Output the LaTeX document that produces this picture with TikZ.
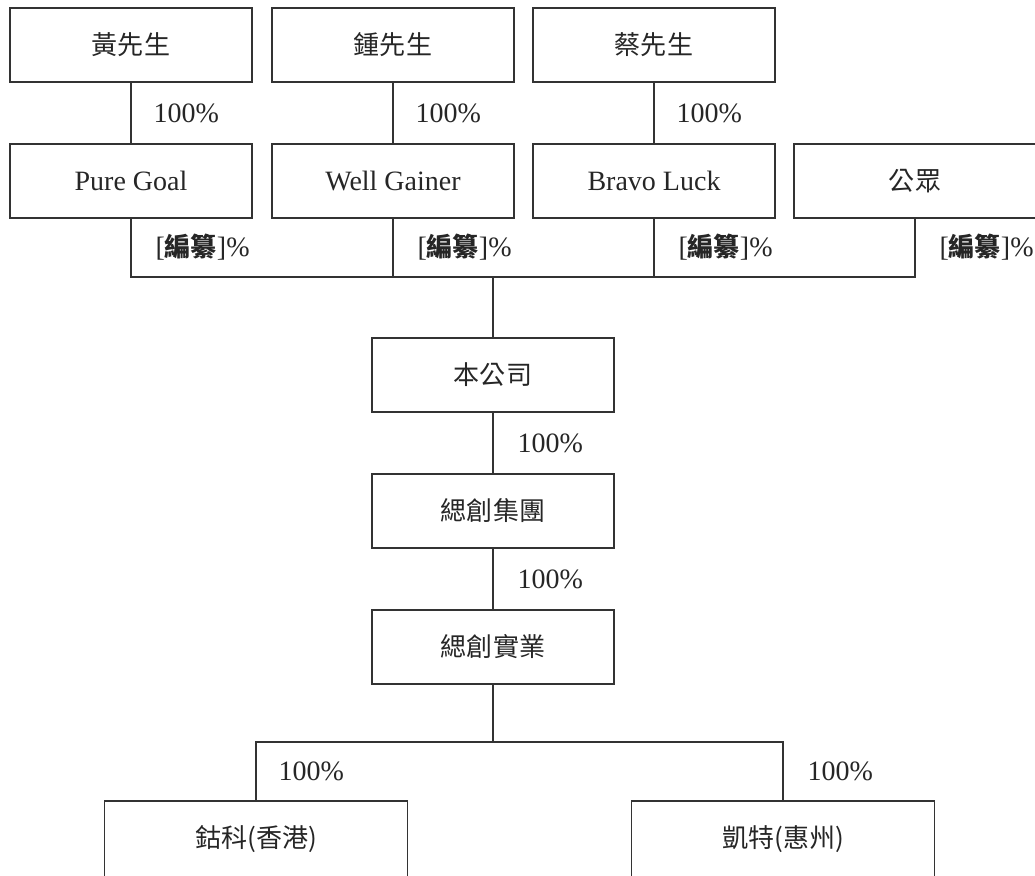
\documentclass[tikz,border=0pt]{standalone}
\usepackage{fontspec}
\setmainfont{Liberation Serif}
\newfontfamily\cjk[Scale=0.93]{Noto Sans CJK TC}
\usetikzlibrary{positioning}

\begin{document}
\begin{tikzpicture}[x=1pt, y=-1pt, line width=1.1pt, draw=black!80, text=black!85,
  box/.style={draw, minimum width=242pt, minimum height=74pt, inner sep=0pt, outer sep=0pt,
    font=\fontsize{28}{32}\selectfont},
  pct/.style={right=#1, inner sep=0pt, font=\fontsize{28}{32}\selectfont},
  pct/.default=22pt]

  \clip (0,0) rectangle (1035,875);

  \node[box] (huang) at (131,45) {\cjk 黃先生};
  \node[box, right=20pt of huang] (zhong) {\cjk 鍾先生};
  \node[box, right=19pt of zhong] (cai) {\cjk 蔡先生};

  \node[box, below=62pt of huang] (pure) {Pure Goal};
  \node[box, below=62pt of zhong] (well) {Well Gainer};
  \node[box, below=62pt of cai] (bravo) {Bravo Luck};
  \node[box, right=19pt of bravo] (public) {\cjk 公眾};

  \node[box] (company) at (493,375) {\cjk 本公司};
  \node[box, below=62pt of company] (group) {\cjk 緦創集團};
  \node[box, below=62pt of group] (industry) {\cjk 緦創實業};

  \node[box, minimum width=303pt, minimum height=76pt] (hk) at (256,839) {\cjk 鈷科(香港)};
  \node[box, minimum width=303pt, minimum height=76pt] (hz) at (783,839) {\cjk 凱特(惠州)};

  \coordinate (bus) at (493,277);
  \coordinate (split) at (493,742);

  \draw (huang) -- (pure) node[pct, midway] {100\%};
  \draw (zhong) -- (well) node[pct, midway] {100\%};
  \draw (cai) -- (bravo) node[pct, midway] {100\%};

  \draw (pure) -- (pure |- bus) node[pct=24pt, midway] {[{\cjk\bfseries 編纂}]\%}
    -- (public |- bus) -- (public) node[pct=24pt, midway] {[{\cjk\bfseries 編纂}]\%};
  \draw (well) -- (well |- bus) node[pct=24pt, midway] {[{\cjk\bfseries 編纂}]\%};
  \draw (bravo) -- (bravo |- bus) node[pct=24pt, midway] {[{\cjk\bfseries 編纂}]\%};
  \draw (bus) -- (company);

  \draw (company) -- (group) node[pct=24pt, midway] {100\%};
  \draw (group) -- (industry) node[pct=24pt, midway] {100\%};

  \draw (industry) -- (split);
  \draw (hk) -- (hk |- split) node[pct, midway] {100\%}
    -- (hz |- split) -- (hz) node[pct=24pt, midway] {100\%};

\end{tikzpicture}
\end{document}
